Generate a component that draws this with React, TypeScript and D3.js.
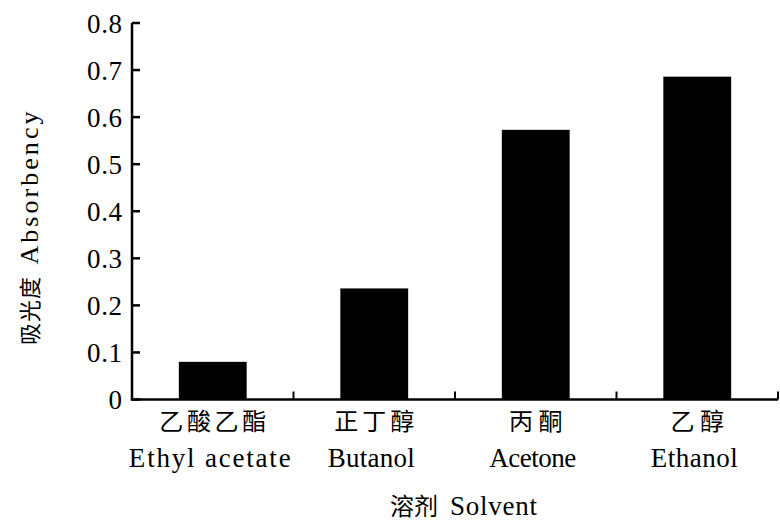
import React from "react";
import * as d3 from "d3";

const categoriesZh = ["乙酸乙酯", "正丁醇", "丙酮", "乙醇"];
const categoriesEn = ["Ethyl acetate", "Butanol", "Acetone", "Ethanol"];
const values = [0.08, 0.236, 0.573, 0.686];
const yTicks = [0, 0.1, 0.2, 0.3, 0.4, 0.5, 0.6, 0.7, 0.8];

const W = 780;
const H = 524;
const left = 132;
const right = 778;
const top = 23;
const bottom = 399.5;

const latin = "'Liberation Serif', 'DejaVu Serif', serif";
const cjk = "'Noto Sans CJK SC', 'Noto Sans CJK JP', sans-serif";

export default function App() {
  const x = d3.scaleBand<string>().domain(categoriesEn).range([left, right]).padding(0);
  const y = d3.scaleLinear().domain([0, 0.8]).range([bottom, top]);
  const bw = x.bandwidth() * 0.42;
  const boundaries = categoriesEn.map((c) => (x(c) as number) + x.bandwidth());

  return (
    <svg width={W} height={H} style={{ position: "absolute", left: 0, top: 0, background: "#fff" }}>
      {/* bars */}
      {categoriesEn.map((c, i) => {
        const cx = (x(c) as number) + x.bandwidth() / 2;
        return (
          <rect key={c} x={cx - bw / 2} y={y(values[i])} width={bw} height={bottom - y(values[i])} fill="#000" />
        );
      })}
      {/* y axis */}
      <line x1={left} x2={left} y1={top} y2={bottom} stroke="#000" strokeWidth={2.5} />
      {yTicks.map((t) => (
        <g key={t}>
          <line x1={left} x2={left + 8} y1={y(t)} y2={y(t)} stroke="#000" strokeWidth={2.5} />
          <text
            x={122}
            y={y(t)}
            dy="0.36em"
            textAnchor="end"
            fontFamily={latin}
            fontSize={27}
            textLength={t === 0 ? undefined : 35}
            lengthAdjust="spacing"
          >
            {t === 0 ? "0" : d3.format(".1f")(t)}
          </text>
        </g>
      ))}
      {/* x axis */}
      <line x1={left - 1.25} x2={right} y1={bottom} y2={bottom} stroke="#000" strokeWidth={2.5} />
      {boundaries.map((b, i) => (
        <line key={i} x1={b} x2={b} y1={bottom} y2={bottom - 8} stroke="#000" strokeWidth={2} />
      ))}
      {/* x labels */}
      {categoriesEn.map((c, i) => {
        const cx = (x(c) as number) + x.bandwidth() / 2;
        return (
          <g key={c}>
            <text
              x={cx}
              y={430}
              textAnchor="middle"
              fontFamily={cjk}
              fontSize={24}
              textLength={categoriesZh[i].length * 26.7}
              lengthAdjust="spacing"
            >
              {categoriesZh[i]}
            </text>
            <text
              x={cx - 3}
              y={467}
              textAnchor="middle"
              fontFamily={latin}
              fontSize={27}
              textLength={c.length * 12.45}
              lengthAdjust="spacing"
            >
              {c}
            </text>
          </g>
        );
      })}
      {/* x title */}
      <text x={390} y={515} fontSize={24}>
        <tspan fontFamily={cjk}>溶剂</tspan>
        <tspan x={450} fontFamily={latin} fontSize={27} textLength={87} lengthAdjust="spacing">
          Solvent
        </tspan>
      </text>
      {/* y title */}
      <g transform={`translate(38, 228.5) rotate(-90)`}>
        <text x={-116.5} y={0} fontSize={22}>
          <tspan fontFamily={cjk} textLength={68} lengthAdjust="spacing">吸光度</tspan>
          <tspan x={-36} fontFamily={latin} fontSize={26} textLength={153} lengthAdjust="spacing">
            Absorbency
          </tspan>
        </text>
      </g>
    </svg>
  );
}
